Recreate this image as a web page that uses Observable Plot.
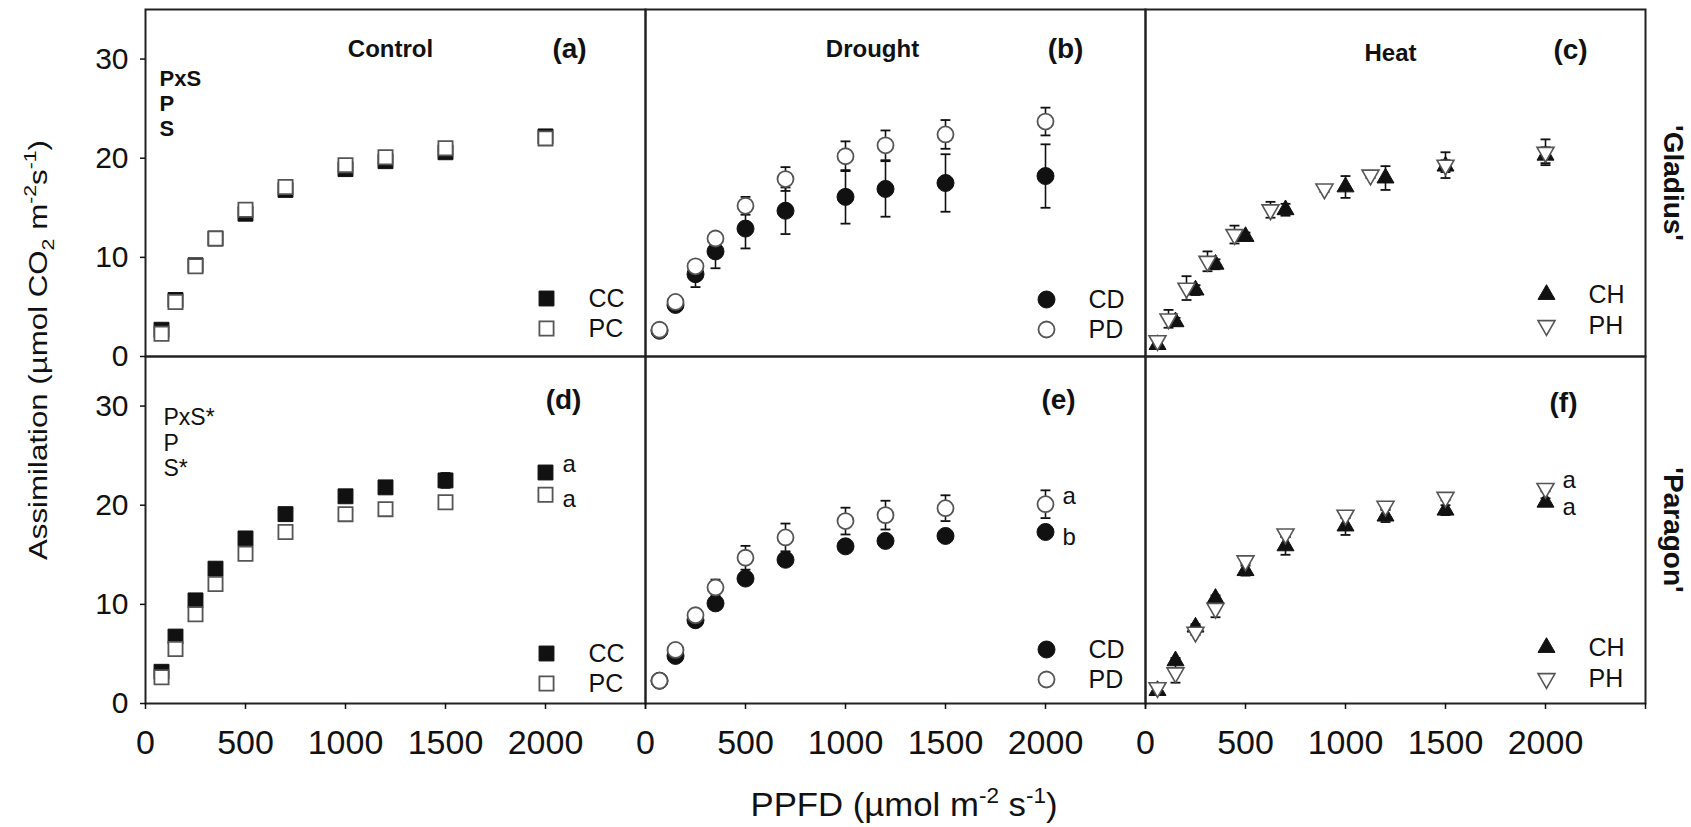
<!DOCTYPE html>
<html><head><meta charset="utf-8">
<script src="https://cdn.jsdelivr.net/npm/d3@7"></script>
<script src="https://cdn.jsdelivr.net/npm/@observablehq/plot@0.6"></script>
<style>body{margin:0;background:#fff;} svg{display:block}</style>
</head><body><div id="chart"></div>
<script>
// ---------- categories & tick labels ----------
const treatments = ["Control", "Drought", "Heat"];
const cultivars = ["'Gladius'", "'Paragon'"];
const panelLetters = ["(a)", "(b)", "(c)", "(d)", "(e)", "(f)"];
const xTicks = [0, 500, 1000, 1500, 2000, 2500];
const xTickLabels = ["0", "500", "1000", "1500", "2000", ""];
const yTicks = [0, 10, 20, 30];
const effectsGladius = ["PxS", "P", "S"];
const effectsParagon = ["PxS*", "P", "S*"];
const legendNames = {CC: "CC", PC: "PC", CD: "CD", PD: "PD", CH: "CH", PH: "PH"};
const sigParagon = {CC: "a", PC: "a", PD: "a", CD: "b", PH: "a", CH: "a"};

// ---------- PPFD levels ----------
const ppfdControl = [80, 150, 250, 350, 500, 700, 1000, 1200, 1500, 2000];
const ppfdDrought = [70, 150, 250, 350, 500, 700, 1000, 1200, 1500, 2000];
const ppfdHeat = [60, 150, 250, 350, 500, 700, 1000, 1200, 1500, 2000];
const ppfdHeatPHGladius = [60, 115, 205, 310, 445, 625, 895, 1125, 1500, 2000];

// ---------- 'Gladius' ----------
const gladiusCC = [2.7, 5.7, 9.2, 11.9, 14.4, 16.8, 18.9, 19.7, 20.6, 22.2];
const gladiusCCse = [0.2, 0.3, 0.3, 0.3, 0.3, 0.3, 0.3, 0.3, 0.3, 0.4];
const gladiusPC = [2.3, 5.5, 9.1, 11.9, 14.8, 17.1, 19.3, 20.1, 21.0, 22.0];
const gladiusPCse = [0.2, 0.3, 0.3, 0.3, 0.3, 0.3, 0.3, 0.3, 0.3, 0.4];
const gladiusCD = [2.6, 5.2, 8.3, 10.6, 12.9, 14.7, 16.1, 16.9, 17.5, 18.2];
const gladiusCDse = [0.2, 0.4, 1.3, 1.7, 2.0, 2.35, 2.7, 2.8, 2.9, 3.2];
const gladiusPD = [2.7, 5.5, 9.1, 11.9, 15.2, 17.9, 20.2, 21.3, 22.4, 23.7];
const gladiusPDse = [0.2, 0.3, 0.4, 0.5, 0.9, 1.2, 1.5, 1.5, 1.45, 1.4];
const gladiusCH = [1.2, 3.5, 6.7, 9.3, 12.1, 14.8, 17.1, 18.0, 19.2, 20.3];
const gladiusCHse = [0.3, 0.4, 0.5, 0.5, 0.4, 0.6, 1.1, 1.2, 0.6, 0.8];
const gladiusPH = [1.6, 3.8, 6.9, 9.6, 12.3, 14.8, 16.9, 18.3, 19.3, 20.6];
const gladiusPHse = [0.3, 0.9, 1.2, 1.0, 0.9, 0.8, 0.3, 0.3, 1.3, 1.3];

// ---------- 'Paragon' ----------
const paragonCC = [3.2, 6.75, 10.4, 13.6, 16.65, 19.1, 20.9, 21.8, 22.5, 23.3];
const paragonCCse = [0.2, 0.3, 0.3, 0.3, 0.3, 0.4, 0.4, 0.4, 0.75, 0.6];
const paragonPC = [2.65, 5.5, 9.0, 12.05, 15.1, 17.3, 19.1, 19.6, 20.3, 21.05];
const paragonPCse = [0.2, 0.3, 0.3, 0.3, 0.3, 0.4, 0.5, 0.5, 0.6, 0.6];
const paragonCD = [2.3, 4.8, 8.4, 10.1, 12.6, 14.5, 15.85, 16.4, 16.9, 17.3];
const paragonCDse = [0.2, 0.3, 0.3, 0.4, 0.5, 0.5, 0.5, 0.5, 0.5, 0.5];
const paragonPD = [2.3, 5.4, 8.9, 11.7, 14.7, 16.75, 18.4, 19.0, 19.7, 20.1];
const paragonPDse = [0.2, 0.3, 0.4, 0.8, 1.2, 1.4, 1.35, 1.45, 1.3, 1.4];
const paragonCH = [1.3, 4.3, 7.7, 10.6, 13.4, 15.9, 17.9, 18.9, 19.5, 20.3];
const paragonCHse = [0.2, 0.3, 0.3, 0.3, 0.5, 0.9, 0.9, 0.6, 0.5, 0.4];
const paragonPH = [1.6, 3.1, 7.2, 9.6, 14.4, 17.1, 19.0, 19.9, 20.8, 21.7];
const paragonPHse = [0.3, 1.0, 0.3, 0.9, 0.3, 0.3, 0.3, 0.3, 0.3, 0.3];

// ---------- table ----------
const rows = [];
function add(cultivar, treatment, series, xs, vs, es) {
  xs.forEach((x, i) => rows.push({cultivar, treatment, series, ppfd: x, v: vs[i], e: es[i]}));
}
add(cultivars[0], "Control", "CC", ppfdControl, gladiusCC, gladiusCCse);
add(cultivars[0], "Control", "PC", ppfdControl, gladiusPC, gladiusPCse);
add(cultivars[0], "Drought", "CD", ppfdDrought, gladiusCD, gladiusCDse);
add(cultivars[0], "Drought", "PD", ppfdDrought, gladiusPD, gladiusPDse);
add(cultivars[0], "Heat", "CH", ppfdHeat, gladiusCH, gladiusCHse);
add(cultivars[0], "Heat", "PH", ppfdHeatPHGladius, gladiusPH, gladiusPHse);
add(cultivars[1], "Control", "CC", ppfdControl, paragonCC, paragonCCse);
add(cultivars[1], "Control", "PC", ppfdControl, paragonPC, paragonPCse);
add(cultivars[1], "Drought", "CD", ppfdDrought, paragonCD, paragonCDse);
add(cultivars[1], "Drought", "PD", ppfdDrought, paragonPD, paragonPDse);
add(cultivars[1], "Heat", "CH", ppfdHeat, paragonCH, paragonCHse);
add(cultivars[1], "Heat", "PH", ppfdHeat, paragonPH, paragonPHse);

// ---------- symbols & styles ----------
const S3 = Math.sqrt(3);
const triDown = {draw(ctx, size) {
  const y = Math.sqrt(size / (S3 * 3));
  ctx.moveTo(0, y * 2); ctx.lineTo(-S3 * y, -y); ctx.lineTo(S3 * y, -y); ctx.closePath();
}};
const hline = {draw(ctx, size) {
  const w = Math.sqrt(size) / 2;
  ctx.moveTo(-w, 0); ctx.lineTo(w, 0);
}};
const style = {
  CC: {symbol: "square", fill: "#111", stroke: "#111", r: 8.4, strokeWidth: 1},
  PC: {symbol: "square", fill: "white", stroke: "#555", r: 8.0, strokeWidth: 1.8},
  CD: {symbol: "circle", fill: "#111", stroke: "#111", r: 8.5, strokeWidth: 1},
  PD: {symbol: "circle", fill: "white", stroke: "#555", r: 8.0, strokeWidth: 1.8},
  CH: {symbol: "triangle", fill: "#111", stroke: "#111", r: 6.3, strokeWidth: 1},
  PH: {symbol: triDown, fill: "white", stroke: "#555", r: 6.3, strokeWidth: 1.6}
};

// ---------- panel layout (styling offsets from panel top-left) ----------
const panels = [
  {cultivar: cultivars[0], treatment: "Control", letter: panelLetters[0], series: ["CC", "PC"], title: [245, 40], let: [424, 40], leg: [289, 319]},
  {cultivar: cultivars[0], treatment: "Drought", letter: panelLetters[1], series: ["CD", "PD"], title: [227, 40], let: [420, 40], leg: [290, 320]},
  {cultivar: cultivars[0], treatment: "Heat", letter: panelLetters[2], series: ["CH", "PH"], title: [245, 44], let: [425, 41], leg: [285, 316]},
  {cultivar: cultivars[1], treatment: "Control", letter: panelLetters[3], series: ["CC", "PC"], title: null, let: [418, 44], leg: [297, 327]},
  {cultivar: cultivars[1], treatment: "Drought", letter: panelLetters[4], series: ["CD", "PD"], title: null, let: [413, 44], leg: [293, 323]},
  {cultivar: cultivars[1], treatment: "Heat", letter: panelLetters[5], series: ["CH", "PH"], title: null, let: [418, 47], leg: [291, 322]}
];

const marks = [];
// data: error bars then symbols, series by series
["CC", "PC", "CD", "PD", "CH", "PH"].forEach(s => {
  const d = rows.filter(r => r.series === s);
  const st = style[s];
  marks.push(Plot.ruleX(d, {fx: "treatment", fy: "cultivar", x: "ppfd", y1: r => r.v - r.e, y2: r => r.v + r.e, stroke: "#111", strokeWidth: 1.6}));
  marks.push(Plot.dot(d, {fx: "treatment", fy: "cultivar", x: "ppfd", y: r => r.v + r.e, symbol: hline, r: 5.6, fill: "none", stroke: "#111", strokeWidth: 1.8}));
  marks.push(Plot.dot(d, {fx: "treatment", fy: "cultivar", x: "ppfd", y: r => r.v - r.e, symbol: hline, r: 5.6, fill: "none", stroke: "#111", strokeWidth: 1.8}));
  marks.push(Plot.dot(d, {fx: "treatment", fy: "cultivar", x: "ppfd", y: "v", ...st}));
});

// significance letters (Paragon, last PPFD)
const lastParagon = rows.filter(r => r.cultivar === cultivars[1] && r.ppfd === 2000);
const upperSeries = ["CC", "PD", "PH"];
marks.push(Plot.text(lastParagon.filter(r => upperSeries.includes(r.series)), {
  fx: "treatment", fy: "cultivar", x: "ppfd", y: "v", text: r => sigParagon[r.series],
  dx: 17, dy: -8, textAnchor: "start", fontSize: 24, fill: "#111"}));
marks.push(Plot.text(lastParagon.filter(r => !upperSeries.includes(r.series)), {
  fx: "treatment", fy: "cultivar", x: "ppfd", y: "v", text: r => sigParagon[r.series],
  dx: 17, dy: 5, textAnchor: "start", fontSize: 24, fill: "#111"}));

// panel annotations
panels.forEach(p => {
  const at = [{fx: p.treatment, fy: p.cultivar}];
  if (p.title) marks.push(Plot.text(at, {fx: "fx", fy: "fy", text: () => p.treatment, frameAnchor: "top-left",
    dx: p.title[0], dy: p.title[1], fontSize: 24, fontWeight: "bold", textAnchor: "middle", lineAnchor: "middle", fill: "#111"}));
  marks.push(Plot.text(at, {fx: "fx", fy: "fy", text: () => p.letter, frameAnchor: "top-left",
    dx: p.let[0], dy: p.let[1], fontSize: 28, fontWeight: "bold", textAnchor: "middle", lineAnchor: "middle", fill: "#111"}));
  p.series.forEach((s, i) => {
    marks.push(Plot.dot(at, {fx: "fx", fy: "fy", frameAnchor: "top-left", dx: 401, dy: p.leg[i], ...style[s]}));
    marks.push(Plot.text(at, {fx: "fx", fy: "fy", text: () => legendNames[s], frameAnchor: "top-left",
      dx: 443, dy: p.leg[i], fontSize: 25, textAnchor: "start", lineAnchor: "middle", fill: "#111"}));
  });
});

// effects text
marks.push(Plot.text([{fx: "Control", fy: cultivars[0]}], {fx: "fx", fy: "fy", text: () => effectsGladius.join("\n"),
  frameAnchor: "top-left", dx: 14, dy: 59, lineHeight: 1.13, fontSize: 22, fontWeight: "bold", textAnchor: "start", lineAnchor: "top", fill: "#111"}));
marks.push(Plot.text([{fx: "Control", fy: cultivars[1]}], {fx: "fx", fy: "fy", text: () => effectsParagon.join("\n"),
  frameAnchor: "top-left", dx: 18, dy: 51, lineHeight: 1.1, fontSize: 23, fontWeight: "normal", textAnchor: "start", lineAnchor: "top", fill: "#111"}));

// cultivar labels on the right
marks.push(Plot.text(cultivars.map(c => ({fx: "Heat", fy: c})), {fx: "fx", fy: "fy", text: "fy",
  frameAnchor: "right", dx: 27, rotate: 90, fontSize: 28, fontWeight: "bold", textAnchor: "middle", lineAnchor: "middle", fill: "#111"}));

// frames & axes
marks.push(Plot.frame({stroke: "#222", strokeWidth: 2}));
marks.push(Plot.axisY({ticks: yTicks, tickSize: 5, tickPadding: 12, fontSize: 30, strokeWidth: 1.5, label: null}));
marks.push(Plot.axisX({ticks: xTicks, tickFormat: d => xTickLabels[xTicks.indexOf(d)], tickSize: 6, tickPadding: 20, fontSize: 34, strokeWidth: 1.5, label: null}));

const chart = Plot.plot({
  width: 1691, height: 827,
  marginLeft: 145, marginRight: 46, marginTop: 8.5, marginBottom: 124,
  x: {domain: [0, 2500]},
  y: {domain: [0, 35]},
  fx: {domain: treatments, padding: 0, axis: null},
  fy: {domain: cultivars, padding: 0, axis: null},
  style: {fontFamily: "'Liberation Sans', Arial, sans-serif", color: "#111", background: "white"},
  marks
});
document.getElementById("chart").appendChild(chart);

// axis titles
const svg = d3.select(chart);
const yt = svg.append("text").attr("transform", "translate(47,350) rotate(-90)")
  .attr("text-anchor", "middle").attr("font-size", 25).attr("fill", "#111")
  .attr("textLength", 420).attr("lengthAdjust", "spacingAndGlyphs");
yt.append("tspan").text("Assimilation (µmol CO");
yt.append("tspan").attr("dy", 7).attr("font-size", 17).text("2");
yt.append("tspan").attr("dy", -7).text(" m");
yt.append("tspan").attr("dy", -11).attr("font-size", 17).text("-2");
yt.append("tspan").attr("dy", 11).text("s");
yt.append("tspan").attr("dy", -11).attr("font-size", 17).text("-1");
yt.append("tspan").attr("dy", 11).text(")");

const xt = svg.append("text").attr("transform", "translate(904,816)")
  .attr("text-anchor", "middle").attr("font-size", 34).attr("fill", "#111")
  .attr("textLength", 307).attr("lengthAdjust", "spacingAndGlyphs");
xt.append("tspan").text("PPFD (µmol m");
xt.append("tspan").attr("dy", -13).attr("font-size", 22).text("-2");
xt.append("tspan").attr("dy", 13).text(" s");
xt.append("tspan").attr("dy", -13).attr("font-size", 22).text("-1");
xt.append("tspan").attr("dy", 13).text(")");
</script></body></html>
